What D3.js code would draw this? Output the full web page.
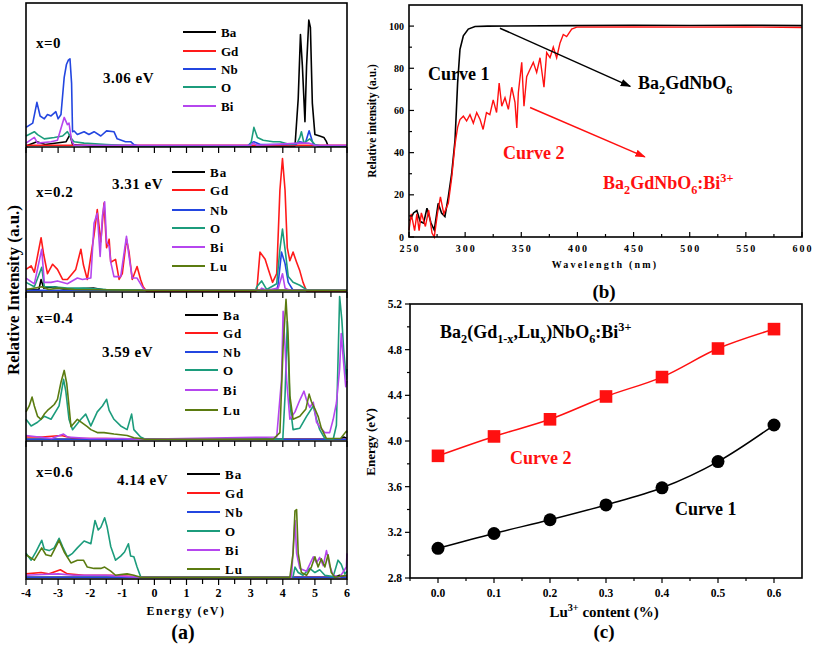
<!DOCTYPE html>
<html><head><meta charset="utf-8">
<script src="https://cdn.jsdelivr.net/npm/d3@7"></script>
<style>body{margin:0;background:#fff} svg{display:block} text{font-family:"Liberation Serif","Times New Roman",serif;font-weight:bold}</style>
</head><body><svg id="c" width="813" height="645"></svg>
<script>
// ---------- DATA : panel (a) PDOS ----------
const elements = ["Ba","Gd","Nb","O","Bi","Lu"];
const elemColors = ["#000000","#ff1a1a","#2346e0","#1c9c7c","#b546ee","#5b7b10"];
const compositions = ["x=0","x=0.2","x=0.4","x=0.6"];
const gapLabels = ["3.06 eV","3.31 eV","3.59 eV","4.14 eV"];
const energyTicks = [-4,-3,-2,-1,0,1,2,3,4,5,6];

const x0_Ba = [[-4,0],[-3.66,3],[-3.4,1],[-2.75,3],[-2.63,8],[-2.55,1],[-2,0],[4.38,0],[4.48,33],[4.55,78],[4.61,56],[4.69,17],[4.74,56],[4.81,88],[4.86,83],[4.92,30],[5.00,8],[5.15,7],[5.28,6],[5.36,3],[5.41,0],[6,0]];
const x0_Gd = [[-4,0.5],[6,0.5]];
const x0_Nb = [[-4,13],[-3.79,16],[-3.66,30.5],[-3.56,21],[-3.43,19],[-3.33,22],[-3.22,21],[-3.07,24],[-3.00,19],[-2.91,22],[-2.81,48],[-2.74,57],[-2.68,60],[-2.63,61],[-2.58,44],[-2.55,10],[-2.50,10.5],[-2.40,8],[-2.19,10],[-2.04,8],[-1.88,10],[-1.67,7],[-1.49,10.6],[-1.26,10],[-1.16,5],[-0.90,3],[-0.74,3],[-0.64,1],[-0.5,0],[2.9,0],[3.0,2],[3.1,3],[3.3,1],[4.4,1],[4.53,3],[4.7,2],[4.82,10.6],[4.95,1],[5.1,0],[6,0]];
const x0_O = [[-4,7],[-3.74,10],[-3.64,8],[-3.43,5],[-3.12,6],[-2.86,7],[-2.71,10],[-2.58,5],[-2.5,3],[-2.19,2],[-1.5,1],[-0.5,0],[2.95,0],[3.02,3],[3.10,13],[3.21,6],[3.39,4],[3.7,3],[3.91,3],[4.22,1],[4.45,2],[4.53,6],[4.58,10],[4.66,2],[4.84,5],[5.00,1],[5.2,0],[6,0]];
const x0_Bi = [[-4,2],[-3.74,6],[-3.64,2],[-3.22,3],[-3.02,4],[-2.81,20],[-2.71,15],[-2.66,16],[-2.58,4],[-2.5,0.5],[3.0,0.5],[3.08,2],[3.2,0.5],[4.53,2],[4.82,2],[5.0,0.5],[6,0.5]];

const x2_Ba = [[-4,1],[-3.6,1],[-3.53,8],[-3.45,2],[-3.12,3],[-2.8,1],[-1.9,2],[-1.5,0.5],[6,0.5]];
const x2_Gd = [[-4,15],[-3.84,17.5],[-3.74,13],[-3.53,37],[-3.45,25.5],[-3.33,12],[-3.17,18.6],[-3.02,15],[-2.86,8],[-2.71,8],[-2.45,15],[-2.29,29],[-2.21,18],[-2.09,8],[-1.88,39],[-1.78,56.5],[-1.67,34],[-1.57,61],[-1.49,30],[-1.41,36],[-1.36,20],[-1.21,22],[-1.10,8],[-1.00,12],[-0.87,36],[-0.79,27],[-0.69,8],[-0.54,17],[-0.43,8],[-0.35,3],[-0.25,0],[3.15,0],[3.19,0.5],[3.29,27],[3.45,22],[3.55,15],[3.68,6],[3.81,12],[3.91,70],[3.99,92],[4.07,70],[4.14,30],[4.22,21],[4.32,27],[4.43,20],[4.53,14],[4.63,6],[4.74,0],[6,0]];
const x2_Nb = [[-4,0.5],[3.81,0.5],[3.85,4],[3.96,27],[4.07,19],[4.17,6],[4.32,0.5],[6,0.5]];
const x2_O = [[-4,6],[-3.74,3],[-3.51,16.5],[-3.43,3],[-3.17,3],[-2.71,2],[-2.2,2],[-1.5,1],[-0.5,0.5],[3.15,0.5],[3.19,3],[3.34,7],[3.50,1],[3.81,5],[3.91,29],[3.99,43],[4.07,29],[4.17,10],[4.32,6],[4.53,4],[4.74,1],[6,0.5]];
const x2_Bi = [[-4,9],[-3.74,5],[-3.51,29],[-3.43,6],[-3.22,6],[-3.02,7],[-2.71,5],[-2.40,9],[-2.24,8],[-1.98,9],[-1.88,47],[-1.78,54],[-1.69,24],[-1.62,52],[-1.55,62],[-1.49,34],[-1.41,31],[-1.36,20],[-1.26,10],[-1.05,10],[-0.87,38],[-0.79,24],[-0.69,9],[-0.54,9],[-0.38,3],[-0.3,0.5],[3.29,0.5],[3.34,2],[3.5,0.5],[3.86,2],[3.99,12],[4.07,2],[4.22,0.5],[6,0.5]];
const x2_Lu = [[-4,1],[-3.5,3],[-3.3,1],[-3.0,2],[-2.5,1],[-0.5,0.5],[6,0.5]];

const x4_Ba = [[-4,0.5],[5.8,0.5],[5.9,2],[6,1]];
const x4_Gd = [[-4,2],[-3.5,2],[-2.9,3],[-2.5,1],[-1.5,1],[-0.5,0.5],[6,0.5]];
const x4_Nb = [[-4,0.5],[6,0.5]];
const x4_O = [[-4,14],[-3.84,9.5],[-3.64,12],[-3.43,16],[-3.22,14],[-2.97,23],[-2.83,41],[-2.76,33],[-2.66,14],[-2.55,7],[-2.29,14],[-2.14,17.5],[-1.98,9.5],[-1.78,19],[-1.62,23],[-1.49,27.5],[-1.41,20],[-1.26,14],[-1.05,9.5],[-0.85,7],[-0.71,17.5],[-0.64,7],[-0.43,2],[-0.28,0.5],[4.0,0.5],[4.07,30],[4.14,80],[4.22,25],[4.32,7],[4.53,8],[4.74,16],[4.95,23],[5.05,14],[5.15,7],[5.31,1],[5.57,0.5],[5.67,10],[5.77,97],[5.84,81],[5.90,60],[5.98,41],[6,48]];
const x4_Bi = [[-4,3],[-3.6,2],[-3.2,1],[-2.83,4],[-2.7,2],[-2.0,1],[-1.0,1],[-0.5,0.5],[3.81,2],[3.96,41],[4.01,87],[4.07,63],[4.12,40],[4.22,14],[4.38,19],[4.53,27],[4.66,33],[4.74,27],[4.84,22],[4.95,25.5],[5.05,12],[5.15,9],[5.31,5],[5.46,5],[5.57,14],[5.67,25],[5.77,48],[5.82,72],[5.88,56],[5.96,36],[6,40]];
const x4_Lu = [[-4,19],[-3.90,23],[-3.81,29],[-3.74,23],[-3.64,16],[-3.53,14],[-3.43,17.5],[-3.33,20],[-3.22,22],[-3.12,24],[-3.02,27.5],[-2.91,39],[-2.81,47],[-2.73,38],[-2.66,23],[-2.60,9],[-2.40,14],[-2.09,9],[-1.98,7],[-1.78,5],[-1.57,5],[-1.26,4],[-0.85,3],[-0.64,1.5],[-0.43,1],[-0.3,0.5],[3.7,0.5],[3.91,5],[4.01,63],[4.10,95],[4.17,68],[4.22,30],[4.32,14],[4.53,16],[4.72,21],[4.82,31],[4.89,26],[5.00,21],[5.10,16],[5.20,8],[5.36,1],[5.8,1],[5.98,6],[6,5]];

const x6_Ba = [[-4,0.5],[5.6,0.5],[5.77,2],[5.9,0.5],[6,0.5]];
const x6_Gd = [[-4,3],[-3.53,4],[-3.3,3],[-2.93,6],[-2.71,3],[-2.19,2],[-1.36,2],[-0.64,1],[-0.4,0.5],[6,0.5]];
const x6_Nb = [[-4,0.5],[6,0.5]];
const x6_O = [[-4,18],[-3.84,13],[-3.69,19],[-3.51,27.5],[-3.43,21],[-3.28,20],[-3.12,22],[-2.97,29],[-2.86,23],[-2.71,15.5],[-2.55,18],[-2.40,22],[-2.19,27],[-1.98,25],[-1.85,42],[-1.75,35],[-1.67,37],[-1.55,44],[-1.47,37],[-1.36,23],[-1.21,13],[-1.05,16],[-0.93,19],[-0.81,25],[-0.74,16],[-0.64,15.5],[-0.54,8],[-0.43,1],[-0.33,0.5],[4.25,0.5],[4.32,1],[4.38,8],[4.48,4],[4.63,2],[4.84,7],[5.00,4],[5.15,6],[5.31,2],[5.57,1],[5.72,13],[5.82,10],[5.93,3],[6,5]];
const x6_Bi = [[-4,2],[-3.5,2.5],[-3.0,3],[-2.5,2],[-1.5,2],[-0.8,1],[-0.4,0.5],[4.27,0.5],[4.38,42],[4.43,18],[4.53,7],[4.74,5],[4.95,15.5],[5.05,11],[5.15,15],[5.26,9],[5.36,20],[5.46,9],[5.57,2],[5.77,0.5],[5.98,8],[6,18]];
const x6_Lu = [[-4,17],[-3.74,13],[-3.51,22],[-3.38,17],[-3.22,16],[-2.97,27.5],[-2.81,19],[-2.60,11],[-2.40,13],[-2.21,13],[-2.09,8],[-1.88,7],[-1.67,7],[-1.55,8],[-1.36,5],[-1.21,2],[-1.05,2.5],[-0.85,3],[-0.64,2],[-0.43,0.5],[4.22,0.5],[4.32,18],[4.38,49],[4.43,50],[4.48,18],[4.58,4],[4.74,2],[4.89,8],[5.00,15.5],[5.10,8],[5.20,14],[5.31,8],[5.41,17],[5.51,4],[5.62,0.5],[5.98,2],[6,2]];

// ---------- DATA : panel (b) absorption ----------
const wavelengthTicks = [250,300,350,400,450,500,550,600];
const intensityTicks = [0,20,40,60,80,100];
const curve1Abs = [[250,8],[251,8],[254,11.4],[257,12.5],[260,7.3],[263,6.6],[266,13.7],[269.6,6.6],[272.5,3.3],[276,16],[279,11.4],[282,9.7],[285,19],[288,30],[291,46],[293.3,73],[295.4,89],[298.4,95.4],[302.8,98.6],[308.8,99.8],[320,100],[400,100.2],[450,100.4],[500,100.3],[550,100.4],[600,100.2]];
const curve2Abs = [[250,3.3],[252,11],[255,3],[257,11],[259,3],[261,11.4],[264.6,5],[267.5,12.8],[270.5,1.9],[272.5,0],[275.3,11],[278,19],[281,11],[285,16],[288,28],[291,44],[293.3,52],[295.4,55.7],[298.4,57.3],[301.3,55],[304.3,58],[307.3,54],[310.3,59],[313.3,55.7],[316,51],[319,59],[322,58],[325,65],[328,59],[330.3,73],[332.6,62],[335.5,66],[338.5,60.5],[341.5,71],[344.4,63.8],[346,51.7],[347.4,68.5],[350.4,82.8],[352.4,62],[354.8,76],[357.8,79.5],[360.7,82.8],[363.7,78],[366.7,85],[370.2,71],[372.6,87.4],[375.6,85],[378.5,90],[381.5,85],[384.5,92],[387.4,96],[390.4,95],[394.9,98.6],[399.4,99.5],[450,99.6],[500,99.5],[550,99.6],[600,99.3]];

// ---------- DATA : panel (c) band gap ----------
const luContent = [0.0,0.1,0.2,0.3,0.4,0.5,0.6];
const curve1Energy = [3.06,3.19,3.31,3.44,3.59,3.82,4.14];
const curve2Energy = [3.87,4.04,4.19,4.39,4.56,4.81,4.98];
const energyAxisTicks = [2.8,3.2,3.6,4.0,4.4,4.8,5.2];
const contentTicks = [0.0,0.1,0.2,0.3,0.4,0.5,0.6];

// ---------- DRAW ----------
const svg = d3.select("#c");

function rich(g, x, y, parts, size, color, anchor) {
  const t = g.append("text").attr("x", x).attr("y", y).attr("font-size", size)
    .attr("fill", color).attr("text-anchor", anchor || "start");
  let cur = 0;
  parts.forEach(([s, k]) => {
    const off = k === "sub" ? size * 0.3 : k === "sup" ? -size * 0.4 : 0;
    t.append("tspan").attr("dy", off - cur).attr("font-size", k === "n" ? size : size * 0.68).text(s);
    cur = off;
  });
  return t;
}

// ===== Panel (a) =====
const aLeft = 26, aRight = 347;
const aTop = [3, 147, 292, 441], aBot = [147, 292, 441, 579];
const xA = d3.scaleLinear().domain([-4, 6]).range([aLeft, aRight]);
const dosSets = [
  [x0_Ba, x0_Gd, x0_Nb, x0_O, x0_Bi, null],
  [x2_Ba, x2_Gd, x2_Nb, x2_O, x2_Bi, x2_Lu],
  [x4_Ba, x4_Gd, x4_Nb, x4_O, x4_Bi, x4_Lu],
  [x6_Ba, x6_Gd, x6_Nb, x6_O, x6_Bi, x6_Lu]
];
const legendPos = [
  {x: 183, y: [32, 51, 69, 87, 106]},
  {x: 172, y: [172, 190, 210, 228, 247, 266]},
  {x: 185, y: [315, 333, 352, 370, 390, 410]},
  {x: 187, y: [474, 493, 512, 531, 550, 569]}
];
const compPos = [[36, 48], [36, 197], [36, 323], [36, 477]];
const gapPos = [[103, 83], [112, 189], [102, 357], [117, 485]];

const gA = svg.append("g");
dosSets.forEach((set, i) => {
  const yA = d3.scaleLinear().domain([0, 100]).range([aBot[i] - 1, aTop[i]]);
  const line = d3.line().x(d => xA(d[0])).y(d => yA(d[1]));
  set.forEach((ser, j) => {
    if (!ser) return;
    gA.append("path").datum(ser).attr("d", line).attr("fill", "none")
      .attr("stroke", elemColors[j]).attr("stroke-width", 1.6).attr("stroke-linejoin", "round");
  });
  const lp = legendPos[i];
  lp.y.forEach((yy, j) => {
    gA.append("line").attr("x1", lp.x).attr("x2", lp.x + 33).attr("y1", yy).attr("y2", yy)
      .attr("stroke", elemColors[j]).attr("stroke-width", 2);
    gA.append("text").attr("x", lp.x + 38).attr("y", yy + 4.5).attr("font-size", 13)
      .attr("letter-spacing", i === 0 ? 0 : 1).attr("fill", "#000").text(elements[j]);
  });
  gA.append("text").attr("x", compPos[i][0]).attr("y", compPos[i][1]).attr("font-size", 15)
    .attr("letter-spacing", 0.5).text(compositions[i]);
  gA.append("text").attr("x", gapPos[i][0]).attr("y", gapPos[i][1]).attr("font-size", 15)
    .attr("letter-spacing", 0.5).text(gapLabels[i]);
  d3.range(-4, 6.01, 0.5).forEach(t => {
    gA.append("line").attr("x1", xA(t)).attr("x2", xA(t)).attr("y1", aBot[i]).attr("y2", aBot[i] + (Number.isInteger(t) ? 6 : 5))
      .attr("stroke", "#000").attr("stroke-width", 1.2);
  });
});
gA.append("rect").attr("x", aLeft).attr("y", aTop[0]).attr("width", aRight - aLeft).attr("height", aBot[3] - aTop[0])
  .attr("fill", "none").attr("stroke", "#000").attr("stroke-width", 1.6);
[147, 292, 441].forEach(y => gA.append("line").attr("x1", aLeft).attr("x2", aRight).attr("y1", y).attr("y2", y)
  .attr("stroke", "#000").attr("stroke-width", 1.6));
energyTicks.forEach(t => gA.append("text").attr("x", xA(t)).attr("y", 597).attr("text-anchor", "middle")
  .attr("font-size", 12).text(t));
gA.append("text").attr("x", 186).attr("y", 615).attr("text-anchor", "middle").attr("font-size", 12)
  .attr("letter-spacing", 1.5).text("Energy (eV)");
gA.append("text").attr("x", 183).attr("y", 639).attr("text-anchor", "middle").attr("font-size", 20).text("(a)");
gA.append("text").attr("transform", "translate(19,290) rotate(-90)").attr("text-anchor", "middle")
  .attr("font-size", 17).text("Relative Intensity (a.u.)");

// ===== Panel (b) =====
const gB = svg.append("g");
const xB = d3.scaleLinear().domain([250, 600]).range([409, 802]);
const yB = d3.scaleLinear().domain([0, 110]).range([237, 5]);
const lineB = d3.line().x(d => xB(d[0])).y(d => yB(d[1]));
gB.append("path").datum(curve1Abs).attr("d", lineB).attr("fill", "none").attr("stroke", "#000").attr("stroke-width", 1.6);
gB.append("path").datum(curve2Abs).attr("d", lineB).attr("fill", "none").attr("stroke", "#ff1010").attr("stroke-width", 1.4);
gB.append("rect").attr("x", 409).attr("y", 5).attr("width", 393).attr("height", 232).attr("fill", "none")
  .attr("stroke", "#000").attr("stroke-width", 1.6);
d3.range(250, 601, 25).forEach(t => gB.append("line").attr("x1", xB(t)).attr("x2", xB(t)).attr("y1", 237)
  .attr("y2", 237 - (t % 50 === 0 ? 5 : 3)).attr("stroke", "#000").attr("stroke-width", 1.2));
d3.range(0, 101, 10).forEach(t => gB.append("line").attr("x1", 409).attr("x2", 409 + (t % 20 === 0 ? 5 : 3))
  .attr("y1", yB(t)).attr("y2", yB(t)).attr("stroke", "#000").attr("stroke-width", 1.2));
wavelengthTicks.forEach(t => gB.append("text").attr("x", xB(t) + 1).attr("y", 252).attr("text-anchor", "middle")
  .attr("font-size", 10).attr("letter-spacing", 2).text(t));
intensityTicks.forEach(t => gB.append("text").attr("x", 404).attr("y", yB(t) + 3.5).attr("text-anchor", "end")
  .attr("font-size", 10).text(t));
gB.append("text").attr("x", 605).attr("y", 268).attr("text-anchor", "middle").attr("font-size", 10)
  .attr("letter-spacing", 2.2).text("Wavelength (nm)");
gB.append("text").attr("x", 604).attr("y", 298).attr("text-anchor", "middle").attr("font-size", 19).text("(b)");
gB.append("text").attr("transform", "translate(376,121) rotate(-90)").attr("text-anchor", "middle")
  .attr("font-size", 11.5).text("Relative intensity (a.u.)");
const defs = svg.append("defs");
[["ab", "#000"], ["ar", "#ff1010"]].forEach(([id, c]) => {
  defs.append("marker").attr("id", id).attr("viewBox", "0 0 10 10").attr("refX", 9).attr("refY", 5)
    .attr("markerWidth", 7).attr("markerHeight", 7).attr("orient", "auto-start-reverse")
    .append("path").attr("d", "M0,1.5 L10,5 L0,8.5 z").attr("fill", c);
});
gB.append("line").attr("x1", xB(331)).attr("y1", yB(99)).attr("x2", xB(447)).attr("y2", yB(71.4))
  .attr("stroke", "#000").attr("stroke-width", 1.5).attr("marker-end", "url(#ab)");
gB.append("line").attr("x1", xB(357.8)).attr("y1", yB(61.4)).attr("x2", xB(460)).attr("y2", yB(38))
  .attr("stroke", "#ff1010").attr("stroke-width", 1.5).attr("marker-end", "url(#ar)");
gB.append("text").attr("x", 428).attr("y", 80).attr("font-size", 18).text("Curve 1");
gB.append("text").attr("x", 503).attr("y", 159).attr("font-size", 18).attr("fill", "#ff1010").text("Curve 2");
rich(gB, 638, 89, [["Ba","n"],["2","sub"],["GdNbO","n"],["6","sub"]], 18, "#000");
rich(gB, 603, 189, [["Ba","n"],["2","sub"],["GdNbO","n"],["6","sub"],[":Bi","n"],["3+","sup"]], 18, "#ff1010");

// ===== Panel (c) =====
const gC = svg.append("g");
const xC = d3.scaleLinear().domain([-0.05, 0.65]).range([410, 802]);
const yC = d3.scaleLinear().domain([2.8, 5.2]).range([578, 304]);
const lineC = d3.line().x((d, i) => xC(luContent[i])).y(d => yC(d)).curve(d3.curveCatmullRom);
gC.append("path").datum(curve2Energy).attr("d", lineC).attr("fill", "none").attr("stroke", "#ff1010").attr("stroke-width", 1.5);
gC.append("path").datum(curve1Energy).attr("d", lineC).attr("fill", "none").attr("stroke", "#000").attr("stroke-width", 1.5);
gC.selectAll(".sq").data(curve2Energy).enter().append("rect")
  .attr("x", (d, i) => xC(luContent[i]) - 6.3).attr("y", d => yC(d) - 6.3).attr("width", 12.6).attr("height", 12.6)
  .attr("fill", "#ff1010");
gC.selectAll(".ci").data(curve1Energy).enter().append("circle")
  .attr("cx", (d, i) => xC(luContent[i])).attr("cy", d => yC(d)).attr("r", 6.5).attr("fill", "#000");
gC.append("rect").attr("x", 410).attr("y", 304).attr("width", 392).attr("height", 274).attr("fill", "none")
  .attr("stroke", "#000").attr("stroke-width", 1.6);
d3.range(0, 14).map(k => -0.05 + k * 0.05).forEach((t, k) => gC.append("line").attr("x1", xC(t)).attr("x2", xC(t))
  .attr("y1", 578).attr("y2", 578 + (k % 2 === 1 ? 5 : 3)).attr("stroke", "#000").attr("stroke-width", 1.2));
d3.range(0, 13).map(k => 2.8 + k * 0.2).forEach((t, k) => gC.append("line").attr("x1", 410).attr("x2", 410 - (k % 2 === 0 ? 5 : 3))
  .attr("y1", yC(t)).attr("y2", yC(t)).attr("stroke", "#000").attr("stroke-width", 1.2));
contentTicks.forEach(t => gC.append("text").attr("x", xC(t)).attr("y", 597).attr("text-anchor", "middle")
  .attr("font-size", 11.5).text(t.toFixed(1)));
energyAxisTicks.forEach(t => gC.append("text").attr("x", 402).attr("y", yC(t) + 4).attr("text-anchor", "end")
  .attr("font-size", 11.5).text(t.toFixed(1)));
rich(gC, 604, 617, [["Lu","n"],["3+","sup"],[" content (%)","n"]], 15, "#000", "middle");
gC.append("text").attr("x", 604).attr("y", 638).attr("text-anchor", "middle").attr("font-size", 19).text("(c)");
gC.append("text").attr("transform", "translate(375,442) rotate(-90)").attr("text-anchor", "middle")
  .attr("font-size", 13).text("Energy (eV)");
rich(gC, 440, 338, [["Ba","n"],["2","sub"],["(Gd","n"],["1-x","sub"],[",Lu","n"],["x","sub"],[")NbO","n"],["6","sub"],[":Bi","n"],["3+","sup"]], 18, "#000");
gC.append("text").attr("x", 510).attr("y", 464).attr("font-size", 18).attr("fill", "#ff1010").text("Curve 2");
gC.append("text").attr("x", 675).attr("y", 515).attr("font-size", 18).text("Curve 1");
</script></body></html>
